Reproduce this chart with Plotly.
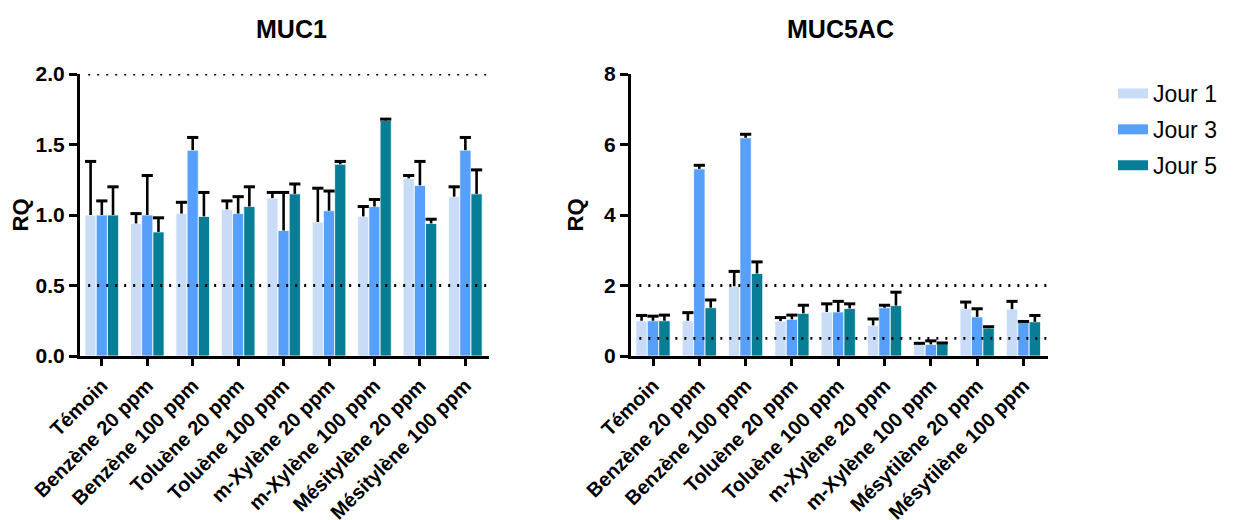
import plotly.graph_objects as go

# ---------- data ----------
labels_muc1 = ["Témoin", "Benzène 20 ppm", "Benzène 100 ppm", "Toluène 20 ppm",
               "Toluène 100 ppm", "m-Xylène 20 ppm", "m-Xylène 100 ppm",
               "Mésitylène 20 ppm", "Mésitylène 100 ppm"]
labels_muc5ac = ["Témoin", "Benzène 20 ppm", "Benzène 100 ppm", "Toluène 20 ppm",
                 "Toluène 100 ppm", "m-Xylène 20 ppm", "m-Xylène 100 ppm",
                 "Mésytilène 20 ppm", "Mésytilène 100 ppm"]
series_names = ["Jour 1", "Jour 3", "Jour 5"]

muc1_j1 = [1.00, 0.94, 1.01, 1.04, 1.12, 0.95, 0.99, 1.26, 1.13]
muc1_j3 = [1.00, 1.00, 1.46, 1.01, 0.89, 1.03, 1.06, 1.21, 1.46]
muc1_j5 = [1.00, 0.88, 0.99, 1.06, 1.15, 1.36, 1.67, 0.94, 1.15]
muc1_j1_top = [1.38, 1.01, 1.09, 1.10, 1.16, 1.19, 1.06, 1.28, 1.20]
muc1_j3_top = [1.10, 1.28, 1.55, 1.13, 1.16, 1.17, 1.11, 1.38, 1.55]
muc1_j5_top = [1.20, 0.98, 1.16, 1.20, 1.22, 1.38, 1.68, 0.97, 1.32]

muc5_j1 = [1.00, 1.00, 1.98, 0.99, 1.25, 0.87, 0.33, 1.34, 1.33]
muc5_j3 = [1.00, 5.31, 6.19, 1.04, 1.25, 1.37, 0.33, 1.11, 0.96]
muc5_j5 = [1.00, 1.37, 2.34, 1.21, 1.35, 1.43, 0.35, 0.79, 0.97]
muc5_j1_top = [1.15, 1.23, 2.40, 1.09, 1.48, 1.05, 0.36, 1.53, 1.55]
muc5_j3_top = [1.13, 5.41, 6.29, 1.16, 1.55, 1.44, 0.43, 1.34, 0.98]
muc5_j5_top = [1.16, 1.59, 2.67, 1.44, 1.48, 1.81, 0.37, 0.83, 1.15]

colors = ["#C8DCF7", "#56A0FC", "#087E96"]
ref_lines = [0.5, 2.0]

FONT = "Arial, Liberation Sans, Helvetica, sans-serif"

fig = go.Figure()

def add_panel(labels, vals, tops, xa, ya):
    for i, (v, t) in enumerate(zip(vals, tops)):
        fig.add_trace(go.Bar(
            x=labels, y=v, name=series_names[i],
            marker=dict(color=colors[i], line=dict(color="white", width=0.8)),
            error_y=dict(type="data", symmetric=False,
                         array=[tt - vv for tt, vv in zip(t, v)],
                         arrayminus=[0] * len(v),
                         color="black", thickness=2.6, width=0),
            xaxis=xa, yaxis=ya, showlegend=False, legendgroup=series_names[i],
        ))
    # caps of the (upper-only) error bars
    for i, t in enumerate(tops):
        fig.add_trace(go.Scatter(
            x=labels, y=t, mode="markers",
            marker=dict(symbol="line-ew", size=8, color="black",
                        line=dict(width=3, color="black")),
            xaxis=xa, yaxis=ya, showlegend=False, hoverinfo="skip",
        ))

add_panel(labels_muc1, [muc1_j1, muc1_j3, muc1_j5],
          [muc1_j1_top, muc1_j3_top, muc1_j5_top], "x", "y")
add_panel(labels_muc5ac, [muc5_j1, muc5_j3, muc5_j5],
          [muc5_j1_top, muc5_j3_top, muc5_j5_top], "x2", "y2")

# legend entries (wide rectangular swatches), on a hidden helper axis
for i, name in enumerate(series_names):
    fig.add_trace(go.Scatter(
        x=[None], y=[None], mode="lines", name=name,
        line=dict(color=colors[i], width=15),
        xaxis="x3", yaxis="y3", showlegend=True, legendgroup=name,
    ))

shapes = []
for xr, yr in [("x domain", "y"), ("x2 domain", "y2")]:
    for yv in ref_lines:
        shapes.append(dict(type="line", xref=xr, yref=yr, x0=0.02, x1=1, y0=yv, y1=yv,
                           line=dict(color="black", width=2.8, dash="2px,7px"),
                           layer="above"))

axis_common = dict(showline=True, linecolor="black", linewidth=3, ticks="outside",
                   tickcolor="black", tickwidth=3, showgrid=False, zeroline=False,
                   automargin=False)

xtick = dict(family=FONT, size=20, color="black", weight="bold")
ytick = dict(family=FONT, size=21, color="black", weight="bold")

def ytitle(standoff):
    return dict(text="RQ", font=dict(family=FONT, size=22, color="black", weight="bold"),
                standoff=standoff)

# page body has an 8px margin: shrink the figure so it fits the window
OFF = 8
W, H = 1237 - OFF, 520 - OFF
ml, mt = 80 - OFF, 74 - OFF
mb = H - (356 - OFF)
mr = W - (1048 - OFF)
pw = W - ml - mr
ph = H - mt - mb

def px_x(p):  # reference-screen pixel -> paper fraction
    return (p - 80) / pw

def px_y(p):
    return (356 - p) / ph

fig.update_layout(
    width=W, height=H,
    margin=dict(l=ml, r=mr, t=mt, b=mb, autoexpand=False),
    plot_bgcolor="white", paper_bgcolor="white",
    barmode="group", bargap=0.26, bargroupgap=0,
    scattermode="group", scattergap=0.26,
    font=dict(family=FONT, color="black"),
    xaxis=dict(domain=[0, px_x(489)], range=[-0.48, 8.52], tickangle=-45,
               tickfont=xtick, ticklen=7, anchor="y", **axis_common),
    yaxis=dict(domain=[0, 1], range=[0, 2], tickvals=[0, 0.5, 1.0, 1.5, 2.0],
               ticktext=["0.0", "0.5", "1.0", "1.5", "2.0"], tickfont=ytick,
               ticklen=8, title=ytitle(4), anchor="x", **axis_common),
    xaxis2=dict(domain=[px_x(631), 1], range=[-0.475, 8.53], tickangle=-45,
                tickfont=xtick, ticklen=7, anchor="y2", **axis_common),
    yaxis2=dict(domain=[0, 1], range=[0, 8], tickvals=[0, 2, 4, 6, 8],
                tickfont=ytick, ticklen=8, title=ytitle(15), anchor="x2", **axis_common),
    xaxis3=dict(visible=False, domain=[0.99, 1], anchor="y3"),
    yaxis3=dict(visible=False, domain=[0.99, 1], anchor="x3"),
    shapes=shapes,
    legend=dict(x=px_x(1113), y=px_y(72), xanchor="left", yanchor="top",
                font=dict(family=FONT, size=23, color="black"),
                tracegroupgap=3, traceorder="grouped", bgcolor="rgba(0,0,0,0)"),
    annotations=[
        dict(text="<b>MUC1</b>", x=px_x(291), y=px_y(29), xref="paper", yref="paper",
             xanchor="center", yanchor="middle",
             showarrow=False, font=dict(family=FONT, size=25, color="black")),
        dict(text="<b>MUC5AC</b>", x=px_x(840), y=px_y(29), xref="paper", yref="paper",
             xanchor="center", yanchor="middle",
             showarrow=False, font=dict(family=FONT, size=25, color="black")),
    ],
)

fig.write_html("out.html")
